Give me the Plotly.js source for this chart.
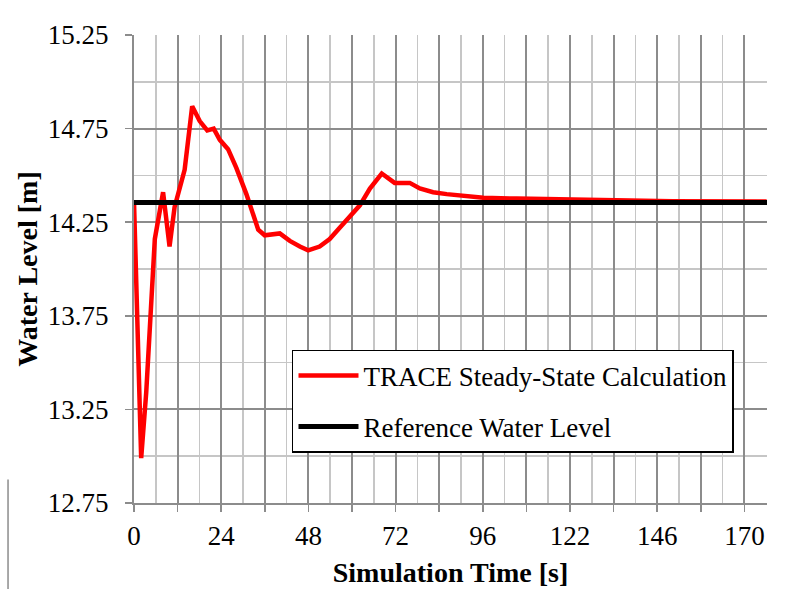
<!DOCTYPE html>
<html>
<head>
<meta charset="utf-8">
<script src="https://cdn.plot.ly/plotly-3.0.1.min.js"></script>
<style>
  html, body { margin: 0; padding: 0; background: #ffffff; }
  #chart { width: 799px; height: 589px; }
</style>
</head>
<body>
<div id="chart"></div>
<script>
// ---- data (x in axis units where each labelled tick is 170/7 apart) ----
const simTime = [0, 2.0, 3.4, 5.8, 8.1, 9.9, 11.3, 14.1, 16.2, 18.3, 20.4, 22.2, 23.9, 26.2, 28.5, 31.3,
                 34.6, 36.4, 40.6, 43.4, 46.2, 48.5, 51.7, 54.5, 57.3, 60.1, 62.9, 65.7, 69.0, 72.6,
                 76.8, 79.6, 83.3, 87.1, 91.2, 97.3, 106.6, 120.5, 134.4, 150.0, 176.2];
const traceLevel = [14.36, 12.99, 13.34, 14.16, 14.41, 14.12, 14.33, 14.53, 14.87, 14.79, 14.74, 14.75,
                    14.69, 14.64, 14.54, 14.40, 14.21, 14.18, 14.19, 14.15, 14.12, 14.10, 14.12, 14.16,
                    14.22, 14.28, 14.34, 14.43, 14.51, 14.46, 14.46, 14.43, 14.41, 14.40, 14.39, 14.38,
                    14.376, 14.371, 14.366, 14.362, 14.36];
const refTime = [0, 176.3];
const refLevel = [14.355, 14.355];

const xTickLabels = ['0', '24', '48', '72', '96', '122', '146', '170'];
const yTickVals = [12.75, 13.25, 13.75, 14.25, 14.75, 15.25];
const yTickLabels = ['12.75', '13.25', '13.75', '14.25', '14.75', '15.25'];

const seriesNames = ['TRACE Steady-State Calculation', 'Reference Water Level'];

// ---- axis tick construction ----
const labelStep = 170 / 7;
const xTickVals = [], xTickText = [];
for (let k = 0; k <= 14; k++) {
  xTickVals.push(k * labelStep / 2);
  xTickText.push(k % 2 === 0 ? xTickLabels[k / 2] : '');
}

const FONT = '"Liberation Serif", "DejaVu Serif", serif';
const DARK = '#8c8c8c';
const LIGHT = '#c6c6c6';

const traces = [
  {
    x: simTime, y: traceLevel, type: 'scatter', mode: 'lines',
    name: seriesNames[0], legendgroup: 'a',
    line: { color: '#ff0000', width: 4.5 }
  },
  {
    x: refTime, y: refLevel, type: 'scatter', mode: 'lines',
    name: seriesNames[1], legendgroup: 'b',
    line: { color: '#000000', width: 5 }
  }
];

const layout = {
  width: 799, height: 589,
  margin: { l: 134, r: 32, t: 35, b: 86 },
  paper_bgcolor: '#ffffff', plot_bgcolor: '#ffffff',
  font: { family: FONT, size: 27, color: '#000000' },
  showlegend: true,
  legend: {
    x: 0.2496, y: 0.327, xanchor: 'left', yanchor: 'top',
    bgcolor: '#ffffff', bordercolor: '#000000', borderwidth: 1.5,
    font: { family: FONT, size: 27, color: '#000000' },
    tracegroupgap: 13, itemwidth: 60
  },
  xaxis: {
    range: [0, 176.3], autorange: false,
    tickmode: 'array', tickvals: xTickVals, ticktext: xTickText,
    ticks: 'outside', ticklen: 7, tickwidth: 1.5, tickcolor: DARK,
    showline: true, linecolor: DARK, linewidth: 2,
    showgrid: true, gridcolor: DARK, gridwidth: 2,
    minor: { tickmode: 'linear', tick0: 0, dtick: labelStep / 4, showgrid: true, gridcolor: LIGHT, gridwidth: 1.6, ticks: '' },
    zeroline: false,
    tickfont: { family: FONT, size: 27, color: '#000000' },
    ticklabelstandoff: 1,
    title: { text: '<b>Simulation Time [s]</b>', font: { family: FONT, size: 28, color: '#000000' }, standoff: 12 }
  },
  yaxis: {
    range: [12.75, 15.25], autorange: false,
    tickmode: 'array', tickvals: yTickVals, ticktext: yTickLabels,
    ticks: 'outside', ticklen: 7, tickwidth: 1.5, tickcolor: DARK,
    showline: true, linecolor: DARK, linewidth: 2,
    showgrid: true, gridcolor: DARK, gridwidth: 2,
    minor: { tickmode: 'linear', tick0: 12.75, dtick: 0.25, showgrid: true, gridcolor: LIGHT, gridwidth: 1.6, ticks: '' },
    zeroline: false,
    tickfont: { family: FONT, size: 27, color: '#000000' },
    ticklabelstandoff: 11,
    title: { text: '<b>Water Level [m]</b>', font: { family: FONT, size: 28, color: '#000000' }, standoff: 2 }
  },
  shapes: [
    { type: 'line', xref: 'paper', yref: 'paper', x0: -0.199, x1: -0.199, y0: 0.05, y1: -0.2,
      line: { color: '#8c8c8c', width: 1.5 } }
  ]
};

Plotly.newPlot('chart', traces, layout, { displayModeBar: false, staticPlot: true });
</script>
</body>
</html>
